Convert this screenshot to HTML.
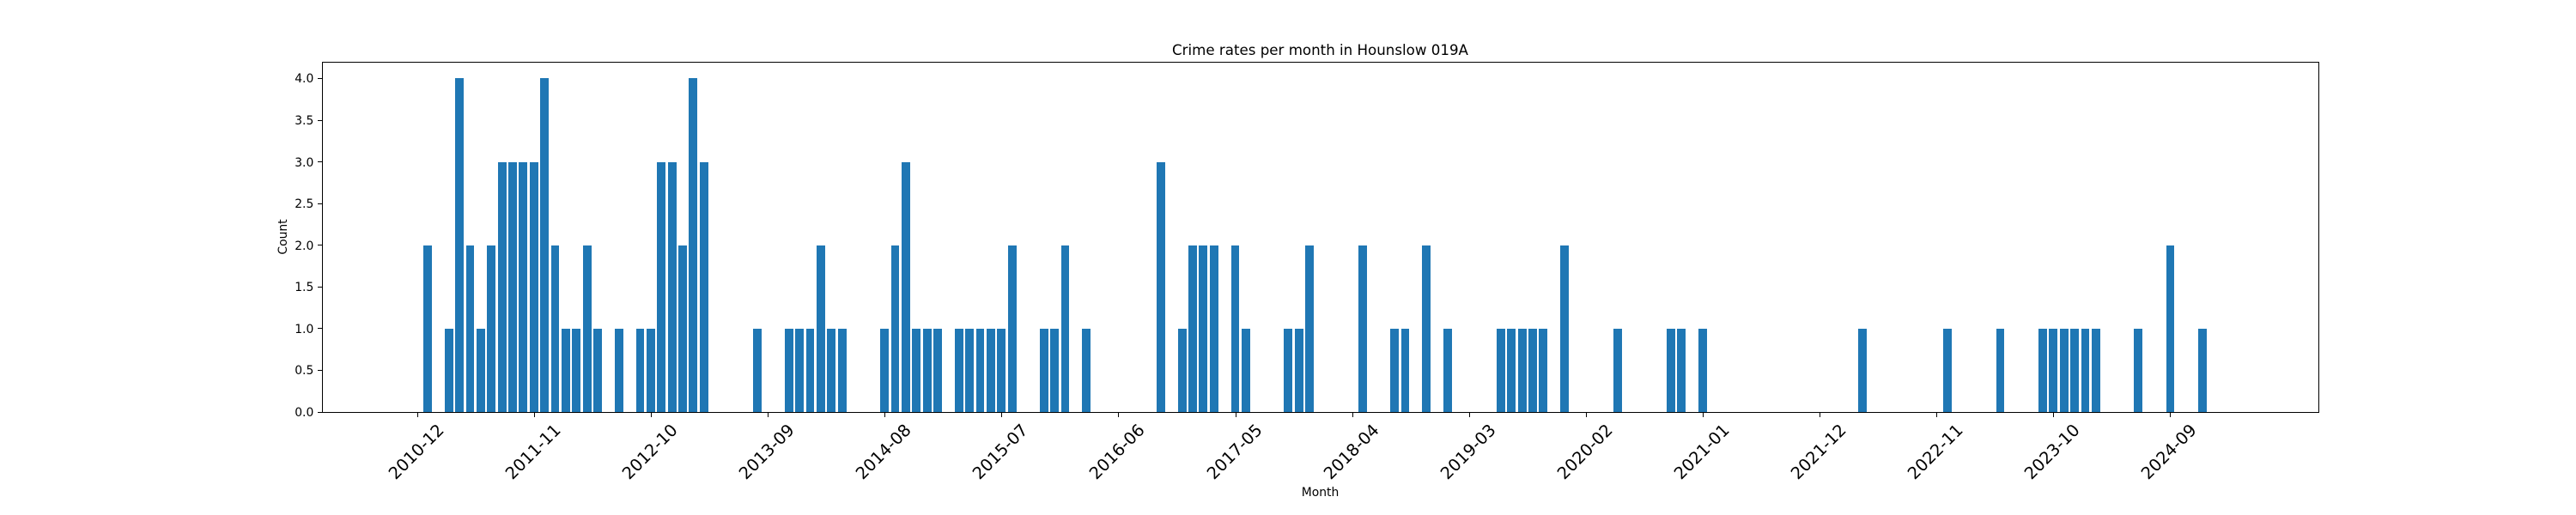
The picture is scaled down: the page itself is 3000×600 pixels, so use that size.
<!DOCTYPE html>
<html lang="en">
<head>
<meta charset="utf-8">
<title>Crime rates per month in Hounslow 019A</title>
<style>
html,body{margin:0;padding:0;background:#fff;width:3000px;height:600px;overflow:hidden}
svg{display:block}
text{font-family:"DejaVu Sans","Liberation Sans",sans-serif;fill:#000}
</style>
</head>
<body>
<svg id="chart" xmlns="http://www.w3.org/2000/svg" width="3000" height="600" viewBox="0 0 3000 600">
<rect x="0" y="0" width="3000" height="600" fill="#ffffff"/>
<g id="bars"></g>
<g id="xticks"></g>
<g id="yticks"></g>
<g stroke="#000" stroke-width="1" fill="none" shape-rendering="crispEdges">
<line x1="375.5" y1="72" x2="375.5" y2="481"/>
<line x1="2700.5" y1="72" x2="2700.5" y2="481"/>
<line x1="375" y1="72.5" x2="2701" y2="72.5"/>
<line x1="375" y1="480.5" x2="2701" y2="480.5"/>
</g>
<text x="1537.5" y="64" text-anchor="middle" font-size="16.67">Crime rates per month in Hounslow 019A</text>
<text x="1537.5" y="578" text-anchor="middle" font-size="13.89">Month</text>
<text transform="translate(334 276) rotate(-90)" text-anchor="middle" font-size="13.89">Count</text>
</svg>
<script>
const months = [
"2010-12",
"2011-01","2011-02","2011-03","2011-04","2011-05","2011-06","2011-07","2011-08","2011-09","2011-10","2011-11","2011-12",
"2012-01","2012-02","2012-03","2012-04","2012-05","2012-06","2012-07","2012-08","2012-09","2012-10","2012-11","2012-12",
"2013-01","2013-02","2013-03","2013-04","2013-05","2013-06","2013-07","2013-08","2013-09","2013-10","2013-11","2013-12",
"2014-01","2014-02","2014-03","2014-04","2014-05","2014-06","2014-07","2014-08","2014-09","2014-10","2014-11","2014-12",
"2015-01","2015-02","2015-03","2015-04","2015-05","2015-06","2015-07","2015-08","2015-09","2015-10","2015-11","2015-12",
"2016-01","2016-02","2016-03","2016-04","2016-05","2016-06","2016-07","2016-08","2016-09","2016-10","2016-11","2016-12",
"2017-01","2017-02","2017-03","2017-04","2017-05","2017-06","2017-07","2017-08","2017-09","2017-10","2017-11","2017-12",
"2018-01","2018-02","2018-03","2018-04","2018-05","2018-06","2018-07","2018-08","2018-09","2018-10","2018-11","2018-12",
"2019-01","2019-02","2019-03","2019-04","2019-05","2019-06","2019-07","2019-08","2019-09","2019-10","2019-11","2019-12",
"2020-01","2020-02","2020-03","2020-04","2020-05","2020-06","2020-07","2020-08","2020-09","2020-10","2020-11","2020-12",
"2021-01","2021-02","2021-03","2021-04","2021-05","2021-06","2021-07","2021-08","2021-09","2021-10","2021-11","2021-12",
"2022-01","2022-02","2022-03","2022-04","2022-05","2022-06","2022-07","2022-08","2022-09","2022-10","2022-11","2022-12",
"2023-01","2023-02","2023-03","2023-04","2023-05","2023-06","2023-07","2023-08","2023-09","2023-10","2023-11","2023-12",
"2024-01","2024-02","2024-03","2024-04","2024-05","2024-06","2024-07","2024-08","2024-09","2024-10","2024-11","2024-12",
"2025-01","2025-02"
];
const counts = [
0,2,0,1,4,2,1,2,3,3,
3,3,4,2,1,1,2,1,0,1,
0,1,1,3,3,2,4,3,0,0,
0,0,1,0,0,1,1,1,2,1,
1,0,0,0,1,2,3,1,1,1,
0,1,1,1,1,1,2,0,0,1,
1,2,0,1,0,0,0,0,0,0,
3,0,1,2,2,2,0,2,1,0,
0,0,1,1,2,0,0,0,0,2,
0,0,1,1,0,2,0,1,0,0,
0,0,1,1,1,1,1,0,2,0,
0,0,0,1,0,0,0,0,1,1,
0,1,0,0,0,0,0,0,0,0,
0,0,0,0,0,0,1,0,0,0,
0,0,0,0,1,0,0,0,0,1,
0,0,0,1,1,1,1,1,1,0,
0,0,1,0,0,2,0,0,1,0,
0
];
const xTickLabels = ["2010-12","2011-11","2012-10","2013-09","2014-08","2015-07","2016-06","2017-05","2018-04","2019-03","2020-02","2021-01","2021-12","2022-11","2023-10","2024-09"];
const yTickValues = [0,0.5,1,1.5,2,2.5,3,3.5,4];

const NS = "http://www.w3.org/2000/svg";
const plot = {left:375, right:2700, top:72, bottom:480};
const barWidth = 0.8;
const span = (months.length - 1) + barWidth;
const xMin = -barWidth / 2 - 0.05 * span;
const xMax = months.length - 1 + barWidth / 2 + 0.05 * span;
const yMax = Math.max.apply(null, counts) * 1.05;

function xScale(i){ return plot.left + (i - xMin) / (xMax - xMin) * (plot.right - plot.left); }
function yScale(v){ return plot.bottom - v / yMax * (plot.bottom - plot.top); }

const barsGroup = document.getElementById("bars");
counts.forEach(function(v, i){
  const x0 = Math.round(xScale(i - barWidth / 2));
  const x1 = Math.round(xScale(i + barWidth / 2));
  const yTop = Math.round(yScale(v));
  const r = document.createElementNS(NS, "rect");
  
  
  r.setAttribute("x", x0);
  r.setAttribute("y", yTop);
  r.setAttribute("width", x1 - x0);
  r.setAttribute("height", plot.bottom - yTop);
  r.setAttribute("fill", "#1f77b4");
  r.setAttribute("shape-rendering", "crispEdges");
  barsGroup.appendChild(r);
});

const xTicksGroup = document.getElementById("xticks");
xTickLabels.forEach(function(label){
  const x = Math.round(xScale(months.indexOf(label))) + 0.5;
  const t = document.createElementNS(NS, "line");
  
  
  t.setAttribute("x1", x);
  t.setAttribute("x2", x);
  t.setAttribute("y1", plot.bottom);
  t.setAttribute("y2", plot.bottom + 6);
  t.setAttribute("stroke", "#000");
  t.setAttribute("stroke-width", "1");
  t.setAttribute("shape-rendering", "crispEdges");
  xTicksGroup.appendChild(t);
  const s = document.createElementNS(NS, "text");
  
  
  s.setAttribute("transform", "translate(" + (x - 2) + " 526) rotate(-45)");
  s.setAttribute("text-anchor", "middle");
  s.setAttribute("dy", "0.36em");
  s.setAttribute("font-size", "19.44");
  s.textContent = label;
  xTicksGroup.appendChild(s);
});

const yTicksGroup = document.getElementById("yticks");
yTickValues.forEach(function(v){
  const y = Math.floor(yScale(v)) + 0.5;
  const t = document.createElementNS(NS, "line");
  
  
  t.setAttribute("x1", plot.left - 5);
  t.setAttribute("x2", plot.left);
  t.setAttribute("y1", y);
  t.setAttribute("y2", y);
  t.setAttribute("stroke", "#000");
  t.setAttribute("stroke-width", "1");
  t.setAttribute("shape-rendering", "crispEdges");
  yTicksGroup.appendChild(t);
  const s = document.createElementNS(NS, "text");
  
  
  s.setAttribute("x", 365.3);
  s.setAttribute("y", Math.round(yScale(v)) + 5);
  s.setAttribute("text-anchor", "end");
  s.setAttribute("font-size", "13.89");
  s.textContent = v.toFixed(1);
  yTicksGroup.appendChild(s);
});
</script>
</body>
</html>
